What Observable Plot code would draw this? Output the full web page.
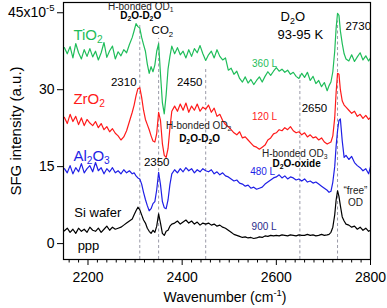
<!DOCTYPE html>
<html><head><meta charset="utf-8">
<script src="https://cdn.jsdelivr.net/npm/d3@7"></script>
<script src="https://cdn.jsdelivr.net/npm/@observablehq/plot@0.6"></script>
<style>body{margin:0;background:#fff}</style>
</head><body><div id="chart"></div>
<script>
const wavenumber = [2150,2156,2162,2168,2174,2180,2186,2192,2198,2204,
2210,2216,2222,2228,2234,2240,2246,2252,2258,2264,
2270,2276,2282,2288,2294,2298,2302,2306,2310,2314,
2318,2322,2326,2330,2334,2338,2342,2346,2350,2354,
2358,2362,2366,2370,2374,2378,2384,2390,2396,2402,
2408,2414,2420,2426,2432,2438,2444,2450,2456,2462,
2468,2474,2480,2486,2492,2498,2504,2510,2516,2522,
2528,2534,2540,2546,2552,2558,2564,2570,2576,2582,
2588,2594,2600,2606,2612,2618,2624,2630,2636,2642,
2648,2654,2660,2666,2672,2678,2684,2690,2696,2702,
2708,2712,2716,2720,2724,2727,2730,2733,2736,2740,
2744,2748,2754,2760,2766,2772,2778,2784,2790,2796,2800];

const tio2 = [38.2,37.0,38.4,36.2,39.0,37.2,36.0,37.8,36.5,38.0,
36.4,37.5,35.8,37.2,39.2,36.3,37.6,38.5,36.0,37.4,
36.6,37.8,37.2,38.8,40.2,41.5,42.9,42.3,42.0,40.2,
38.8,37.5,35.0,33.2,34.5,33.5,34.8,37.5,39.0,33.0,
27.5,25.3,29.0,34.0,36.5,38.5,37.0,38.2,36.8,37.5,
36.2,37.8,36.5,38.0,37.2,38.6,37.0,35.7,36.8,37.5,
36.2,37.8,36.5,35.8,36.2,33.8,34.2,33.0,33.6,32.2,
31.5,32.5,31.3,32.0,31.0,31.8,32.5,31.5,32.6,33.5,
32.8,33.6,34.3,33.6,34.0,33.4,33.8,33.0,33.4,32.6,
32.2,33.2,32.4,33.4,31.8,32.6,31.2,31.8,30.6,31.4,
29.8,30.8,31.5,33.5,37.5,42.0,44.9,44.5,41.5,39.0,
37.0,36.0,35.6,36.8,35.5,36.4,37.2,35.8,36.6,35.6,36.2];

const zro2 = [24.6,23.4,25.2,23.8,24.8,23.2,24.5,23.0,24.2,23.5,
23.0,23.8,22.6,23.4,22.2,22.8,21.8,22.4,21.5,21.0,
20.2,20.8,22.0,23.8,25.6,27.0,28.8,30.2,30.4,28.5,
26.0,24.2,23.2,22.2,21.0,20.0,19.8,21.5,25.6,24.0,
19.5,17.2,16.8,18.5,22.5,25.8,26.8,25.8,27.2,26.0,
27.4,25.6,26.8,26.0,27.2,25.8,26.6,26.2,27.0,25.6,
26.4,24.8,25.2,24.0,23.2,22.8,22.2,21.6,21.2,21.8,
20.6,20.8,20.2,19.6,19.0,18.8,18.4,18.8,19.2,20.2,
20.6,21.4,21.6,22.2,22.0,22.6,22.2,22.8,22.0,21.6,
21.8,21.2,21.6,20.8,21.2,20.6,20.8,20.2,20.6,19.8,
19.4,19.6,19.8,21.0,24.5,29.5,33.2,33.0,30.0,27.8,
27.0,26.6,26.0,25.4,25.8,24.8,25.2,24.4,25.0,24.2,24.6];

const al2o3 = [14.6,13.8,15.2,13.6,14.8,14.0,15.6,13.8,14.6,15.2,
14.0,15.8,14.2,14.8,13.6,14.6,14.0,14.8,13.8,14.2,
13.6,14.4,13.8,14.2,13.6,13.8,13.2,12.8,12.6,11.6,
10.0,8.6,7.4,6.4,6.8,7.8,8.2,10.5,13.9,11.5,
8.2,7.0,6.8,8.5,11.5,13.6,14.4,13.8,14.6,14.0,
14.8,14.2,14.6,13.8,14.4,14.0,14.6,14.2,14.0,14.4,
13.6,14.0,13.4,13.8,13.2,13.0,12.6,12.2,12.4,11.8,
11.6,11.2,11.4,10.8,11.0,10.6,10.8,11.0,11.6,12.0,
12.4,12.8,13.0,13.4,12.8,13.2,12.6,13.0,12.8,12.4,
12.6,12.2,12.6,12.0,12.2,11.8,12.0,11.6,11.2,10.8,
10.4,10.0,10.2,12.0,15.0,19.0,22.0,24.0,24.3,20.0,
16.8,17.2,16.4,17.0,15.8,15.2,14.8,14.2,14.6,13.6,15.0];

const siWafer = [2.5,3.0,2.2,2.8,2.0,3.0,2.4,2.8,2.2,3.2,
2.6,2.4,3.0,2.2,2.8,3.4,2.6,3.2,2.8,3.0,
3.2,3.6,4.0,4.4,4.8,5.6,6.4,7.1,6.6,5.6,
4.6,4.0,3.0,2.4,2.0,2.6,2.2,3.4,5.8,4.0,
2.0,1.6,2.4,2.6,3.4,3.8,4.0,4.4,3.8,4.2,
4.6,4.0,4.4,3.8,4.2,3.6,4.0,3.8,4.0,3.6,
3.8,3.4,3.6,3.2,3.0,2.6,2.2,1.8,1.6,1.4,
1.2,1.3,1.1,1.2,1.0,1.1,1.3,1.2,1.5,1.4,
1.6,1.5,1.6,1.5,1.7,1.6,1.5,1.7,1.6,1.5,
1.7,1.6,1.6,1.8,1.6,1.7,1.5,1.6,1.8,1.6,
1.7,1.8,2.2,3.2,5.6,8.5,10.3,9.2,7.4,5.2,
4.4,3.8,3.6,3.2,3.4,2.8,3.2,2.6,3.0,2.4,2.6];

const markedPeaks = [2310, 2350, 2450, 2650, 2730];
const peakTop = [43.0, 40.0, 34.4, 33.4, 43.4];
const xTickValues = [2200, 2400, 2600, 2800];
const yTickValues = [0, 15, 30, 45];

const GREEN = "#1fbd5a", RED = "#ff1a1a", BLUE = "#1f1fe6", NAVY = "#2a2a8a";
const series = [
  {name: "TiO2", values: tio2, color: GREEN},
  {name: "ZrO2", values: zro2, color: RED},
  {name: "Al2O3", values: al2o3, color: BLUE},
  {name: "Si wafer", values: siWafer, color: "black"}
];
const lineData = series.flatMap(s => s.values.map((v, i) => ({x: wavenumber[i], y: v, s: s.name})));
const colorOf = Object.fromEntries(series.map(s => [s.name, s.color]));
const rules = markedPeaks.map((p, i) => ({x: p, y1: -3.1, y2: peakTop[i]}));

// annotations (data coordinates)
const bigLabels = [
  {t: "TiO_2", x: 2169, y: 39.6, c: GREEN},
  {t: "ZrO_2", x: 2169, y: 27.3, c: RED},
  {t: "Al_2O_3", x: 2169, y: 16.1, c: BLUE}
];
const blackLabels = [
  {t: "Si wafer", x: 2171, y: 5.1},
  {t: "ppp", x: 2178, y: -1.3}
];
const peakLabels = [
  {t: "2310", x: 2276, y: 30.8},
  {t: "2450", x: 2416, y: 30.8},
  {t: "2650", x: 2681, y: 25.6},
  {t: "2350", x: 2346, y: 15.1},
  {t: "2730", x: 2774, y: 41.7},
  {t: "CO_2", x: 2358, y: 40.9}
];
const condLabels = [
  {t: "D_2O", x: 2635, y: 43.3},
  {t: "93-95 K", x: 2651, y: 39.8}
];
const bandLabels = [
  {t: "H-bonded OD_1", x: 2312, y: 45.6},
  {t: "H-bonded OD_2", x: 2435, y: 22.3},
  {t: "H-bonded OD_3", x: 2639, y: 16.8},
  {t: "\u201cfree\u201d", x: 2768, y: 9.6},
  {t: "OD", x: 2768, y: 7.3}
];
const boldLabels = [
  {t: "D_2O-D_2O", x: 2312, y: 43.7},
  {t: "D_2O-D_2O", x: 2437, y: 19.9},
  {t: "D_2O-oxide", x: 2643, y: 14.9}
];
const doseLabels = [
  {t: "360 L", x: 2575, y: 34.5, c: GREEN},
  {t: "120 L", x: 2575, y: 24.0, c: RED},
  {t: "480 L", x: 2571, y: 13.3, c: BLUE},
  {t: "900 L", x: 2574, y: 2.6, c: NAVY}
];

const chart = Plot.plot({
  width: 387, height: 308,
  marginLeft: 63, marginRight: 17, marginTop: 2, marginBottom: 49,
  x: {domain: [2148, 2800]},
  y: {domain: [-3.1, 47]},
  style: {fontFamily: "'Liberation Sans', Arial, sans-serif", fontSize: "14px", color: "black", background: "white", overflow: "visible"},
  marks: [
    Plot.ruleX(rules, {x: "x", y1: "y1", y2: "y2", stroke: "#9a9aa8", strokeDasharray: "3,2.5", strokeWidth: 1}),
    Plot.line(lineData, {x: "x", y: "y", z: "s", stroke: d => colorOf[d.s], strokeWidth: 1.2, curve: "linear"}),
    Plot.axisX({ticks: d3.range(2160, 2800, 20).filter(d => d % 200 !== 0), tickSize: 3.5, text: null, label: null}),
    Plot.axisX({ticks: xTickValues, tickSize: 6, tickPadding: 7, fontSize: 14, label: null, tickFormat: d => String(d)}),
    Plot.axisY({ticks: yTickValues, tickSize: 6, tickPadding: 3, fontSize: 14, label: null,
      tickFormat: d => d === 45 ? "45x10^{-5}" : String(d)}),
    Plot.frame({stroke: "black", strokeWidth: 1.2}),
    Plot.text(bigLabels, {x: "x", y: "y", text: "t", fill: "c", fontSize: 15, textAnchor: "start", lineAnchor: "bottom"}),
    Plot.text(blackLabels, {x: "x", y: "y", text: "t", fill: "black", fontSize: 13, textAnchor: "start", lineAnchor: "bottom"}),
    Plot.text(peakLabels, {x: "x", y: "y", text: "t", fill: "black", fontSize: 11.5, lineAnchor: "bottom"}),
    Plot.text(condLabels, {x: "x", y: "y", text: "t", fill: "black", fontSize: 13, lineAnchor: "bottom"}),
    Plot.text(bandLabels, {x: "x", y: "y", text: "t", fill: "#222", fontSize: 10, lineAnchor: "bottom"}),
    Plot.text(boldLabels, {x: "x", y: "y", text: "t", fill: "black", fontSize: 10, fontWeight: "bold", lineAnchor: "bottom"}),
    Plot.text(doseLabels, {x: "x", y: "y", text: "t", fill: "c", fontSize: 10, lineAnchor: "bottom"}),
    Plot.text([0], {frameAnchor: "left", text: () => "SFG intensity (a.u.)", rotate: -90, dx: -47, textAnchor: "middle", lineAnchor: "middle", fontSize: 15}),
    Plot.text([0], {frameAnchor: "bottom", text: () => "Wavenumber (cm^{-1})", dy: 42, dx: 8, textAnchor: "middle", fontSize: 14, lineAnchor: "bottom"})
  ]
});
document.getElementById("chart").appendChild(chart);

// render _sub and ^sup markup as tspans
function richify(root) {
  root.querySelectorAll("text, tspan").forEach(n => {
    if (n.childNodes.length !== 1 || n.firstChild.nodeType !== 3) return;
    const s = n.textContent;
    if (!/[_^]/.test(s)) return;
    const fs = parseFloat(getComputedStyle(n).fontSize) || 12;
    n.textContent = "";
    const re = /([_^])(\{[^}]*\}|.)/g;
    let last = 0, m;
    const add = (txt, kind) => {
      if (!txt) return;
      const t = document.createElementNS("http://www.w3.org/2000/svg", "tspan");
      t.textContent = txt;
      if (kind === "_") { t.setAttribute("font-size", (fs * 0.68).toFixed(1)); t.setAttribute("baseline-shift", (-fs * 0.22).toFixed(1)); }
      if (kind === "^") { t.setAttribute("font-size", (fs * 0.68).toFixed(1)); t.setAttribute("baseline-shift", (fs * 0.42).toFixed(1)); }
      n.appendChild(t);
    };
    while ((m = re.exec(s))) {
      add(s.slice(last, m.index), null);
      add(m[2].replace(/^\{|\}$/g, ""), m[1]);
      last = re.lastIndex;
    }
    add(s.slice(last), null);
  });
}
richify(chart);
</script>
</body></html>
